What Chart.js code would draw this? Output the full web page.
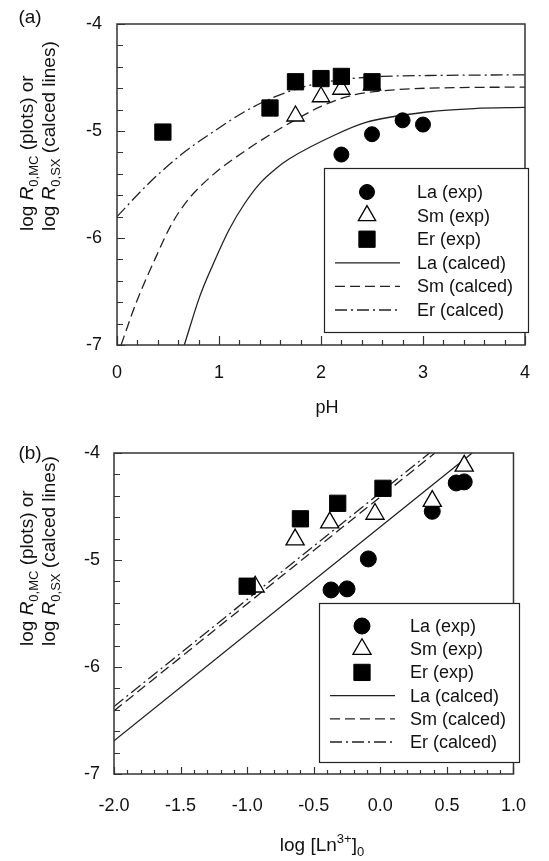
<!DOCTYPE html>
<html><head><meta charset="utf-8">
<script src="https://cdn.jsdelivr.net/npm/chart.js@4.4.1/dist/chart.umd.min.js"></script>
<style>
html,body{margin:0;padding:0;background:#fff;}
#wrap{position:relative;width:549px;height:861px;overflow:hidden;}
canvas{position:absolute;left:0;}
#ca{top:0;}
#cb{top:430px;}
</style></head><body>
<div id="wrap"><canvas id="ca" width="549" height="430"></canvas><canvas id="cb" width="549" height="431"></canvas></div>
<script>
// ---------- Panel (a): log R vs pH ----------
const laExpPH = [2.2, 2.5, 2.8, 3.0];
const laExpA  = [-5.22, -5.03, -4.90, -4.94];
const smExpPH = [1.75, 2.0, 2.2, 2.5];
const smExpA  = [-4.86, -4.68, -4.61, -4.57];
const erExpPH = [0.45, 1.5, 1.75, 2.0, 2.2, 2.5];
const erExpA  = [-5.01, -4.785, -4.54, -4.51, -4.49, -4.54];
const laCalcPH = [0.66, 0.81, 0.94, 1.1, 1.25, 1.41, 1.56, 1.69, 2.13, 2.44, 3.06, 3.5, 4.0];
const laCalcA  = [-7.0, -6.55, -6.25, -5.92, -5.68, -5.48, -5.35, -5.26, -5.04, -4.92, -4.82, -4.79, -4.78];
const smCalcPH = [0.04, 0.19, 0.39, 0.53, 0.69, 0.94, 1.25, 1.56, 1.75, 2.0, 2.29, 2.72, 3.3, 4.0];
const smCalcA  = [-7.0, -6.60, -6.16, -5.88, -5.65, -5.41, -5.19, -5.00, -4.895, -4.77, -4.67, -4.615, -4.595, -4.59];
const erCalcPH = [0, 0.31, 0.63, 0.94, 1.25, 1.5, 1.75, 2.0, 2.3, 2.6, 3.2, 4.0];
const erCalcA  = [-5.80, -5.49, -5.22, -5.01, -4.82, -4.70, -4.61, -4.55, -4.51, -4.49, -4.48, -4.475];
const xTicksA = ['0', '1', '2', '3', '4'];
const yTicksA = ['-7', '-6', '-5', '-4'];

// ---------- Panel (b): log R vs log [Ln3+]0 ----------
const laExpLog = [-0.37, -0.25, -0.09, 0.39, 0.57, 0.63];
const laExpB   = [-5.28, -5.27, -4.99, -4.545, -4.28, -4.27];
const smExpLog = [-0.94, -0.64, -0.38, -0.04, 0.39, 0.63];
const smExpB   = [-5.25, -4.81, -4.65, -4.57, -4.45, -4.12];
const erExpLog = [-1.0, -0.60, -0.32, 0.02];
const erExpB   = [-5.245, -4.615, -4.47, -4.33];
const laCalcLog = [-2.0, 0.69];
const laCalcB   = [-6.69, -4.0];
const smCalcLog = [-2.0, 0.41];
const smCalcB   = [-6.41, -4.0];
const erCalcLog = [-2.0, 0.37];
const erCalcB   = [-6.37, -4.0];
const xTicksB = ['-2.0', '-1.5', '-1.0', '-0.5', '0.0', '0.5', '1.0'];
const yTicksB = ['-7', '-6', '-5', '-4'];

const legendLabels = ['La (exp)', 'Sm (exp)', 'Er (exp)', 'La (calced)', 'Sm (calced)', 'Er (calced)'];

const FF = '"Liberation Sans", Arial, Helvetica, sans-serif';
const FS = 18;
const INK = '#111';

function pts(xs, ys) { return xs.map((x, i) => ({x: x, y: ys[i]})); }

function makeDatasets(la, sm, er, laC, smC, erC, circR, triR, rectR) {
  return [
    {label: legendLabels[0], data: la, showLine: false, pointStyle: 'circle', pointRadius: circR,
     backgroundColor: '#000', borderColor: '#000', pointBorderWidth: 1, order: 2},
    {label: legendLabels[1], data: sm, showLine: false, pointStyle: 'triangle', pointRadius: triR,
     backgroundColor: '#fff', borderColor: '#000', pointBorderWidth: 1.3, order: 1},
    {label: legendLabels[2], data: er, showLine: false, pointStyle: 'rect', pointRadius: rectR,
     backgroundColor: '#000', borderColor: '#000', pointBorderWidth: 1, order: 0},
    {label: legendLabels[3], data: laC, showLine: true, pointRadius: 0, borderColor: '#222', borderWidth: 1.3,
     cubicInterpolationMode: 'monotone', fill: false, order: 3},
    {label: legendLabels[4], data: smC, showLine: true, pointRadius: 0, borderColor: '#222', borderWidth: 1.3,
     borderDash: [10, 5], cubicInterpolationMode: 'monotone', fill: false, order: 4},
    {label: legendLabels[5], data: erC, showLine: true, pointRadius: 0, borderColor: '#222', borderWidth: 1.3,
     borderDash: [12, 4, 2, 4], cubicInterpolationMode: 'monotone', fill: false, order: 5}
  ];
}

function drawParts(ctx, parts, x, y) {
  let cx = x;
  for (const p of parts) {
    ctx.font = p.f;
    ctx.fillText(p.t, cx, y + (p.dy || 0));
    cx += ctx.measureText(p.t).width;
  }
  return cx - x;
}
function partsWidth(ctx, parts) {
  let w = 0;
  for (const p of parts) { ctx.font = p.f; w += ctx.measureText(p.t).width; }
  return w;
}

const fN = FS + 'px ' + FF;
const fT = '19px ' + FF;
const fTI = 'italic 19px ' + FF;
const fTS = '13px ' + FF;
const yTitle1 = [{t: 'log ', f: fT}, {t: 'R', f: fTI}, {t: '0,MC', f: fTS, dy: 5}, {t: ' (plots) or', f: fT}];
const yTitle2 = [{t: 'log ', f: fT}, {t: 'R', f: fTI}, {t: '0,SX', f: fTS, dy: 5}, {t: ' (calced lines)', f: fT}];

function decoPlugin(c) {
  return {
    id: 'deco' + c.letter,
    afterDatasetsDraw(chart) {
      const ctx = chart.ctx;
      const a = chart.chartArea;
      const xs = chart.scales.x, ys = chart.scales.y;
      ctx.save();
      // ticks (inward)
      ctx.strokeStyle = '#333';
      ctx.lineWidth = 1.2;
      ctx.beginPath();
      const nx = Math.round((xs.max - xs.min) / c.xStep);
      for (let k = 0; k <= nx; k++) {
        const v = xs.min + k * c.xStep;
        const major = Math.abs(v / c.xMajor - Math.round(v / c.xMajor)) < 1e-6;
        const px = Math.round(xs.getPixelForValue(v)) + 0.5;
        const len = major ? c.xMajLen : c.xMinLen;
        ctx.moveTo(px, a.bottom); ctx.lineTo(px, a.bottom - len);
      }
      const ny = Math.round((ys.max - ys.min) / c.yStep);
      for (let k = 0; k <= ny; k++) {
        const v = ys.min + k * c.yStep;
        const major = Math.abs(v - Math.round(v)) < 1e-6;
        const py = Math.round(ys.getPixelForValue(v)) + 0.5;
        const len = major ? c.yMajLen : c.yMinLen;
        ctx.moveTo(a.left, py); ctx.lineTo(a.left + len, py);
      }
      ctx.stroke();
      // frame
      ctx.strokeStyle = '#333';
      ctx.lineWidth = 1.5;
      ctx.strokeRect(a.left, a.top, a.right - a.left, a.bottom - a.top);

      // legend box
      const L = c.legend;
      ctx.fillStyle = '#fff';
      ctx.fillRect(L.x0, L.y0, L.x1 - L.x0, L.y1 - L.y0);
      ctx.strokeStyle = '#222';
      ctx.lineWidth = 1.2;
      ctx.strokeRect(L.x0 + 0.5, L.y0 + 0.5, L.x1 - L.x0, L.y1 - L.y0);
      chart.data.datasets.forEach((d, i) => {
        const y = L.row0 + i * L.dy;
        if (d.showLine) {
          ctx.save();
          ctx.strokeStyle = d.borderColor;
          ctx.lineWidth = d.borderWidth;
          ctx.setLineDash(d.borderDash || []);
          ctx.beginPath();
          ctx.moveTo(L.lx0, y); ctx.lineTo(L.lx1, y);
          ctx.stroke();
          ctx.restore();
        } else {
          ctx.save();
          ctx.fillStyle = d.backgroundColor;
          ctx.strokeStyle = d.borderColor;
          ctx.lineWidth = d.pointBorderWidth;
          Chart.helpers.drawPoint(ctx, {pointStyle: d.pointStyle, radius: d.pointRadius, rotation: 0,
            borderWidth: d.pointBorderWidth}, L.sx, y);
          ctx.restore();
        }
        ctx.fillStyle = INK;
        ctx.font = fN;
        ctx.textAlign = 'left';
        ctx.textBaseline = 'middle';
        ctx.fillText(d.label, L.tx, y + 1);
      });

      // panel letter
      ctx.fillStyle = INK;
      ctx.font = fT;
      ctx.textAlign = 'center';
      ctx.textBaseline = 'middle';
      ctx.fillText(c.letterText, c.letterX, c.letterY);

      // y title (two rotated lines)
      ctx.textAlign = 'left';
      ctx.textBaseline = 'alphabetic';
      [[yTitle1, c.yt1x], [yTitle2, c.yt2x]].forEach(([parts, bx]) => {
        ctx.save();
        ctx.translate(bx, c.ytStart);
        ctx.rotate(-Math.PI / 2);
        drawParts(ctx, parts, 0, 0);
        ctx.restore();
      });

      // x title
      const w = partsWidth(ctx, c.xTitle);
      drawParts(ctx, c.xTitle, c.xtCx - w / 2, c.xtBase);
      ctx.restore();
    }
  };
}

function makeChart(id, datasets, o) {
  return new Chart(document.getElementById(id), {
    type: 'scatter',
    data: {datasets: datasets},
    options: {
      responsive: false,
      animation: false,
      layout: {padding: o.pad},
      plugins: {legend: {display: false}, tooltip: {enabled: false}},
      scales: {
        x: {
          type: 'linear', min: o.xmin, max: o.xmax,
          grid: {display: false, drawTicks: false},
          border: {display: false},
          afterFit: (s) => { s.height = o.xh; },
          ticks: {stepSize: o.xstep, autoSkip: false, maxRotation: 0, padding: o.xpad, color: INK,
            font: {family: FF, size: FS, lineHeight: 1},
            callback: (v, i) => o.xlabels[i]}
        },
        y: {
          type: 'linear', min: -7, max: -4,
          grid: {display: false, drawTicks: false},
          border: {display: false},
          afterFit: (s) => { s.width = o.yw; },
          ticks: {stepSize: 1, autoSkip: false, padding: o.ypad, color: INK,
            font: {family: FF, size: FS, lineHeight: 1},
            callback: (v, i) => o.ylabels[i]}
        }
      }
    },
    plugins: [decoPlugin(o.deco)]
  });
}

makeChart('ca',
  makeDatasets(pts(laExpPH, laExpA), pts(smExpPH, smExpA), pts(erExpPH, erExpA),
               pts(laCalcPH, laCalcA), pts(smCalcPH, smCalcA), pts(erCalcPH, erCalcA), 7.5, 10, 11.5),
  {pad: {top: 10, right: 6, left: 0, bottom: 0}, xmin: 0, xmax: 4, xstep: 1, xh: 85, xpad: 19, yw: 117, ypad: 15,
   xlabels: xTicksA, ylabels: yTicksA,
   deco: {letter: 'a', letterText: '(a)', letterX: 30, letterY: 18,
     xStep: 0.2, xMajor: 1, xMajLen: 9, xMinLen: 5, yStep: 0.2, yMajLen: 8, yMinLen: 6,
     legend: {x0: 324, x1: 528, y0: 168, y1: 332, row0: 192, dy: 23.6, sx: 367, lx0: 335, lx1: 400, tx: 417},
     yt1x: 33, yt2x: 55, ytStart: 231,
     xTitle: [{t: 'pH', f: fN}], xtCx: 327, xtBase: 413}
  });

makeChart('cb',
  makeDatasets(pts(laExpLog, laExpB), pts(smExpLog, smExpB), pts(erExpLog, erExpB),
               pts(laCalcLog, laCalcB), pts(smCalcLog, smCalcB), pts(erCalcLog, erCalcB), 8, 10.5, 11.5),
  {pad: {top: 17, right: 18, left: 0, bottom: 0}, xmin: -2, xmax: 1, xstep: 0.5, xh: 87, xpad: 23, yw: 114, ypad: 14,
   xlabels: xTicksB, ylabels: yTicksB,
   deco: {letter: 'b', letterText: '(b)', letterX: 30, letterY: 24,
     xStep: 0.1, xMajor: 0.5, xMajLen: 7, xMinLen: 4, yStep: 0.2, yMajLen: 8, yMinLen: 6,
     legend: {x0: 319, x1: 519, y0: 173, y1: 332, row0: 196, dy: 23.2, sx: 362, lx0: 330, lx1: 395, tx: 410},
     yt1x: 33, yt2x: 55, ytStart: 216,
     xTitle: [{t: 'log [Ln', f: fT}, {t: '3+', f: fTS, dy: -8}, {t: ']', f: fT}, {t: '0', f: fTS, dy: 5}],
     xtCx: 322, xtBase: 421}
  });
</script>
</body></html>
